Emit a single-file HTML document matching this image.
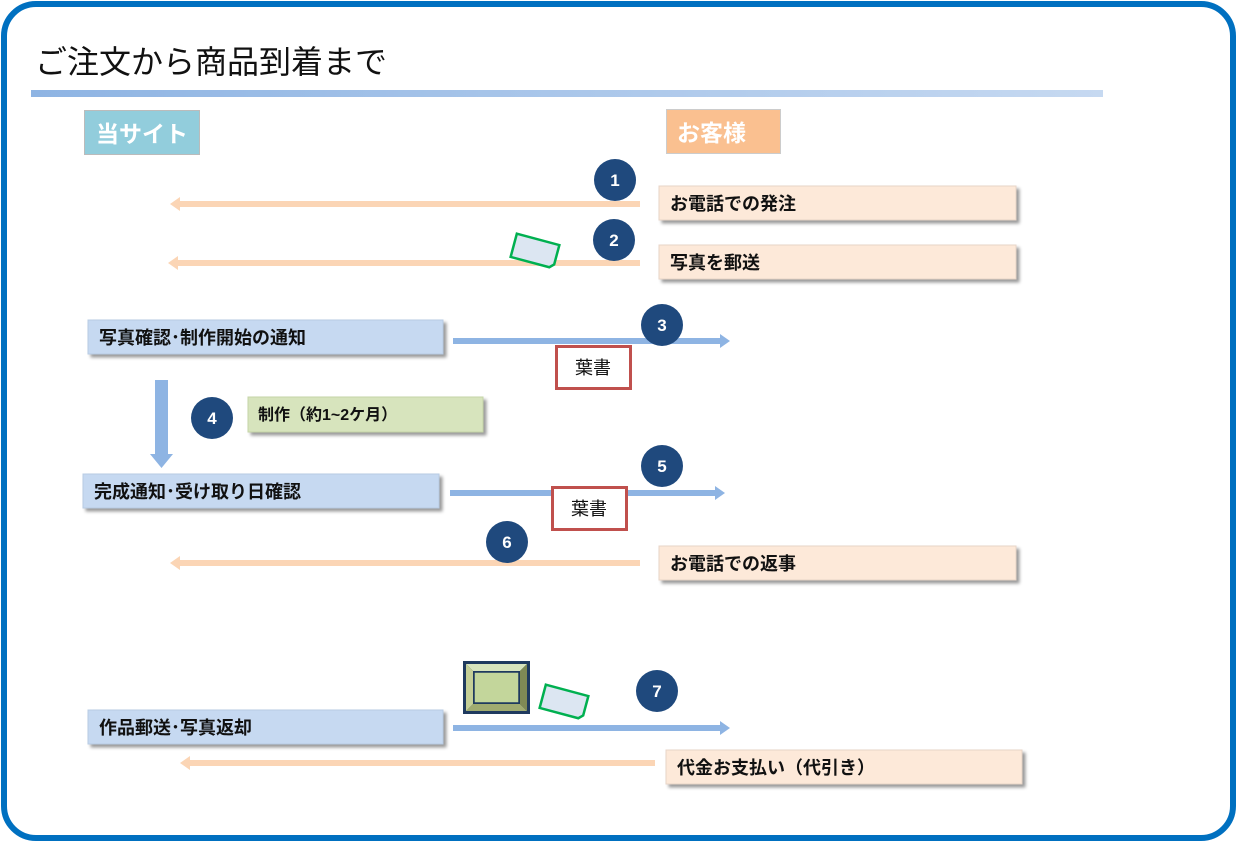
<!DOCTYPE html>
<html><head><meta charset="utf-8"><style>
body{margin:0;width:1237px;height:842px;overflow:hidden;background:#fff}
text{font-family:"Liberation Sans","Noto Sans CJK JP",sans-serif}
</style></head><body>
<svg width="1237" height="842" xmlns="http://www.w3.org/2000/svg">
<defs>
<linearGradient id="g" x1="0" x2="1"><stop offset="0" stop-color="#8eb4e3"/><stop offset="1" stop-color="#c6d9f1"/></linearGradient>
<filter id="s" x="-5%" y="-20%" width="115%" height="160%"><feDropShadow dx="3" dy="3" stdDeviation="1.5" flood-color="#000" flood-opacity="0.4"/></filter>
</defs>
<rect x="4" y="4" width="1229" height="834" rx="32" fill="#fff" stroke="#0070c0" stroke-width="6"/>
<text x="35" y="73" font-size="32" fill="#111">ご注文から商品到着まで</text>
<rect x="31" y="90" width="1072" height="7" fill="url(#g)"/>
<rect x="84.5" y="110.5" width="115" height="44" fill="#92cddc" stroke="#bbb"/>
<text x="96" y="142" font-size="23" font-weight="bold" fill="#fff">当サイト</text>
<rect x="666.5" y="109.5" width="114" height="44" fill="#fac090" stroke="#ccc"/>
<text x="677" y="141" font-size="23" font-weight="bold" fill="#fff">お客様</text>

<g fill="#fbd5b5">
<rect x="178" y="201" width="462" height="6"/><polygon points="170,204 180,197 180,211"/>
<rect x="176" y="260" width="464" height="6"/><polygon points="168,263 178,256 178,270"/>
<rect x="178" y="560" width="462" height="6"/><polygon points="170,563 180,556 180,570"/>
<rect x="188" y="760" width="467" height="6"/><polygon points="180,763 190,756 190,770"/>
</g>
<g fill="#8eb4e3">
<rect x="453" y="338" width="268" height="6"/><polygon points="730,341 720,334 720,348"/>
<rect x="450" y="490" width="266" height="6"/><polygon points="725,493 715,486 715,500"/>
<rect x="453" y="725" width="268" height="6"/><polygon points="730,728 720,721 720,735"/>
<rect x="155" y="380" width="13" height="74"/><polygon points="150,454 173,454 161.5,468"/>
</g>

<g filter="url(#s)">
<rect x="659" y="186" width="357" height="34" fill="#fde9d9" stroke="#e8d5c8"/>
<rect x="659" y="245" width="357" height="34" fill="#fde9d9" stroke="#e8d5c8"/>
<rect x="659" y="546" width="357" height="34" fill="#fde9d9" stroke="#e8d5c8"/>
<rect x="666" y="750" width="356" height="34" fill="#fde9d9" stroke="#e8d5c8"/>
<rect x="88" y="320" width="355" height="34" fill="#c6d9f1" stroke="#b8cce4"/>
<rect x="83" y="474" width="356" height="34" fill="#c6d9f1" stroke="#b8cce4"/>
<rect x="88" y="710" width="355" height="34" fill="#c6d9f1" stroke="#b8cce4"/>
<rect x="248" y="397" width="235" height="35" fill="#d7e4bd" stroke="#c5d5a8"/>
</g>
<g font-size="18" font-weight="bold" fill="#111">
<text x="670" y="210">お電話での発注</text>
<text x="670" y="269">写真を郵送</text>
<text x="670" y="570">お電話での返事</text>
<text x="677" y="774">代金お支払い（代引き）</text>
<text x="99" y="344">写真確認･制作開始の通知</text>
<text x="94" y="498">完成通知･受け取り日確認</text>
<text x="99" y="734">作品郵送･写真返却</text>
<text x="258" y="420" font-size="16">制作（約1~2ケ月）</text>
</g>

<rect x="556.5" y="346.5" width="74" height="42" fill="#fff" stroke="#c0504d" stroke-width="3"/>
<text x="593" y="374" font-size="18" text-anchor="middle" fill="#111">葉書</text>
<rect x="552.5" y="487.5" width="74" height="42" fill="#fff" stroke="#c0504d" stroke-width="3"/>
<text x="589" y="515" font-size="18" text-anchor="middle" fill="#111">葉書</text>

<g fill="#1f497d">
<circle cx="615" cy="180" r="21"/><circle cx="614" cy="240" r="21"/><circle cx="662" cy="325" r="21"/>
<circle cx="212" cy="418" r="21"/><circle cx="662" cy="466" r="21"/><circle cx="507" cy="542" r="21"/>
<circle cx="657" cy="691" r="21"/>
</g>
<g fill="#fff" font-size="17" font-weight="bold" text-anchor="middle">
<text x="615" y="186">1</text><text x="614" y="246">2</text><text x="662" y="331">3</text>
<text x="212" y="424">4</text><text x="662" y="472">5</text><text x="507" y="548">6</text><text x="657" y="697">7</text>
</g>

<g transform="translate(535,251) rotate(15)"><path d="M-22,-12 H22 V8 L18,12 H-22 Z" fill="#dce6f2" stroke="#00b050" stroke-width="2.5"/></g>
<g transform="translate(564,702) rotate(15)"><path d="M-22,-12 H22 V8 L18,12 H-22 Z" fill="#dce6f2" stroke="#00b050" stroke-width="2.5"/></g>

<rect x="463" y="661" width="67" height="53" fill="#1f3a5f"/>
<polygon points="466,664 527,664 520,671 473,671" fill="#d7e4bd"/>
<polygon points="466,711 527,711 520,704 473,704" fill="#a0ab70"/>
<polygon points="466,664 473,671 473,704 466,711" fill="#c4cf97"/>
<polygon points="527,664 520,671 520,704 527,711" fill="#7f8a55"/>
<rect x="474" y="672" width="45" height="31" fill="#c3d69b" stroke="#1f3a5f" stroke-width="1.5"/>
</svg>
</body></html>
